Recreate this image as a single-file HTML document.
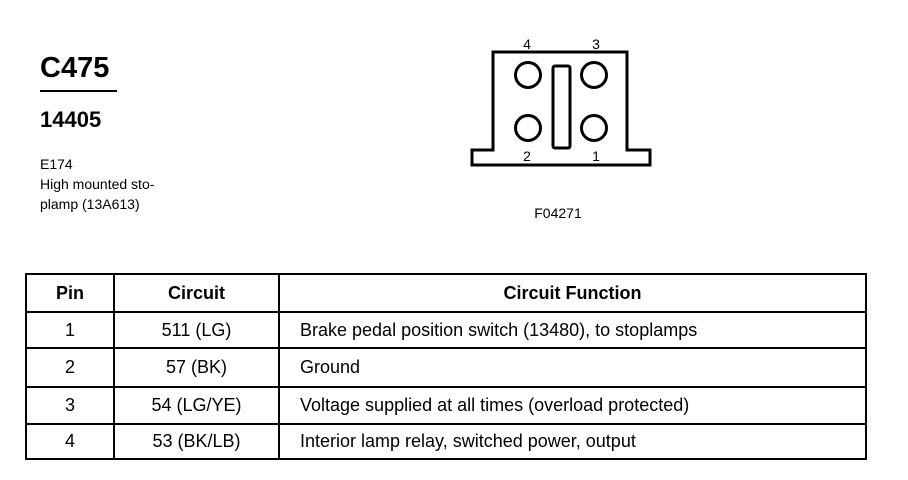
<!DOCTYPE html>
<html><head><style>
body{margin:0;background:#fff;width:908px;height:480px;position:relative;font-family:"Liberation Sans",sans-serif;color:#000;overflow:hidden}
.t{position:absolute;white-space:nowrap}
table{position:absolute;left:25px;top:273px;border-collapse:collapse;font-size:18px;table-layout:fixed;width:840px}
td{border:2px solid #000;text-align:center;padding:0}
th{border:2px solid #000;font-size:18px;height:36px;padding:0}
.f{text-align:left;padding-left:20px}
</style></head><body>
<div class="t" style="left:40px;top:52px;font-size:29px;font-weight:bold">C475</div>
<div style="position:absolute;left:40px;top:90px;width:77px;height:2px;background:#000"></div>
<div class="t" style="left:40px;top:107px;font-size:22px;font-weight:bold">14405</div>
<div class="t" style="left:40px;top:154px;font-size:14px;line-height:20px">E174<br>High mounted sto-<br>plamp (13A613)</div>
<svg style="position:absolute;left:0;top:0" width="908" height="260">
<path d="M493 52 H627 V150 H650 V165 H472 V150 H493 Z" fill="none" stroke="#000" stroke-width="3"/>
<rect x="553" y="66" width="17" height="82" rx="2" fill="none" stroke="#000" stroke-width="3"/>
<g fill="none" stroke="#000" stroke-width="3">
<circle cx="528" cy="75" r="12.5"/><circle cx="594" cy="75" r="12.5"/>
<circle cx="528" cy="128" r="12.5"/><circle cx="594" cy="128" r="12.5"/></g>
<g font-family="Liberation Sans" font-size="14" text-anchor="middle">
<text x="527" y="49">4</text><text x="596" y="49">3</text>
<text x="527" y="161">2</text><text x="596" y="161">1</text>
<text x="558" y="218">F04271</text></g>
</svg>
<table>
<colgroup><col style="width:88px"><col style="width:165px"><col style="width:587px"></colgroup>
<tr><th style="height:36px">Pin</th><th>Circuit</th><th>Circuit Function</th></tr>
<tr><td style="height:34px">1</td><td>511 (LG)</td><td class="f">Brake pedal position switch (13480), to stoplamps</td></tr>
<tr><td style="height:37px">2</td><td>57 (BK)</td><td class="f">Ground</td></tr>
<tr><td style="height:35px">3</td><td>54 (LG/YE)</td><td class="f">Voltage supplied at all times (overload protected)</td></tr>
<tr><td style="height:33px">4</td><td>53 (BK/LB)</td><td class="f">Interior lamp relay, switched power, output</td></tr>
</table>
</body></html>
